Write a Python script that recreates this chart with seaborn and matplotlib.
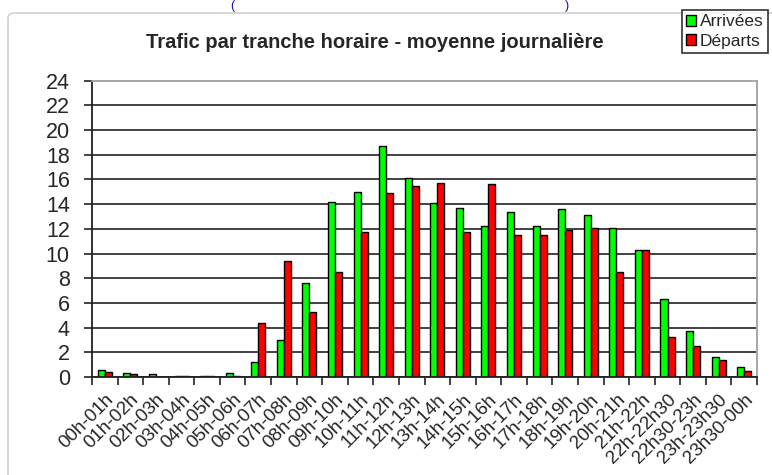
import numpy as np
import pandas as pd
import seaborn as sns
import matplotlib.pyplot as plt
from matplotlib.patches import Patch, FancyBboxPatch

tranches = ['00h-01h', '01h-02h', '02h-03h', '03h-04h', '04h-05h', '05h-06h',
            '06h-07h', '07h-08h', '08h-09h', '09h-10h', '10h-11h', '11h-12h',
            '12h-13h', '13h-14h', '14h-15h', '15h-16h', '16h-17h', '17h-18h',
            '18h-19h', '19h-20h', '20h-21h', '21h-22h', '22h-22h30',
            '22h30-23h', '23h-23h30', '23h30-00h']
arrivees = [0.6, 0.35, 0.25, 0.1, 0.1, 0.35, 1.2, 3.0, 7.6, 14.2, 15.0, 18.7,
            16.1, 14.1, 13.7, 12.25, 13.4, 12.25, 13.6, 13.1, 12.1, 10.25,
            6.35, 3.75, 1.6, 0.8]
departs = [0.4, 0.25, 0.0, 0.1, 0.1, 0.1, 4.4, 9.4, 5.3, 8.5, 11.75, 14.9,
           15.5, 15.75, 11.75, 15.65, 11.5, 11.5, 11.9, 12.1, 8.5, 10.25,
           3.25, 2.5, 1.4, 0.5]
series = ['Arrivées', 'Départs']
couleurs = ['#00ff00', '#ff0000']

df = pd.DataFrame({
    'tranche': tranches * 2,
    'valeur': arrivees + departs,
    'sens': [series[0]] * len(tranches) + [series[1]] * len(tranches),
})

sns.set_style('white')
plt.rcParams['font.family'] = ['Liberation Sans', 'DejaVu Sans']

fig = plt.figure(figsize=(7.72, 4.75), dpi=100)
ax = fig.add_axes([0.1192, 0.2063, 0.8614, 0.6238])

# cadre du graphique
fig.patches.append(FancyBboxPatch((8 / 772, -0.05), 1.0, 1.0 - 13 / 475 + 0.05,
                                  boxstyle='round,pad=0,rounding_size=0.01',
                                  transform=fig.transFigure, fill=False,
                                  edgecolor='#d0d0d0', linewidth=1.2))
fig.text(232 / 772, 1.0, '(', color='#1010c0', fontsize=9, ha='center', va='top')
fig.text(567 / 772, 1.0, ')', color='#1010c0', fontsize=9, ha='center', va='top')

sns.barplot(data=df, x='tranche', y='valeur', hue='sens', palette=couleurs,
            saturation=1, width=0.55, edgecolor='black', linewidth=1, ax=ax,
            legend=False)

ax.set_xlim(-0.5, len(tranches) - 0.5)
ax.set_ylim(0, 24)
ax.set_yticks(range(0, 25, 2))
ax.yaxis.grid(True, color='#333333', linewidth=1.3)
ax.get_ygridlines()[-1].set_visible(False)
ax.set_axisbelow(True)

ax.set_xticks(range(len(tranches)))
ax.set_xticklabels(tranches, rotation=45, ha='right', rotation_mode='anchor',
                   fontsize=13.5)
ax.set_xticks(np.arange(-0.5, len(tranches), 1), minor=True)
ax.tick_params(axis='x', which='major', length=0, pad=10)
ax.tick_params(axis='x', which='minor', length=6, width=1.2, color='#222222',
               direction='out', bottom=True)
ax.tick_params(axis='y', length=6, width=1.2, color='#222222', direction='out',
               left=True, labelsize=15.5, pad=10)
ax.set_xlabel('')
ax.set_ylabel('')

for s in ['left', 'bottom']:
    ax.spines[s].set_color('#222222')
    ax.spines[s].set_linewidth(1.3)
for s in ['top', 'right']:
    ax.spines[s].set_color('#a0a0a0')
    ax.spines[s].set_linewidth(1.3)

fig.text(375 / 772, 1 - 42 / 475, 'Trafic par tranche horaire - moyenne journalière',
         fontsize=14.5, fontweight='bold', ha='center', va='center')

handles = [Patch(facecolor=c, edgecolor='black', linewidth=1) for c in couleurs]
leg = fig.legend(handles, series, loc='upper right',
                 bbox_to_anchor=(768 / 772, 1 - 10 / 475), fontsize=12.5,
                 frameon=True, fancybox=False, edgecolor='black',
                 handlelength=0.6, handleheight=0.6, handletextpad=0.2,
                 borderpad=0.25, labelspacing=0.25, borderaxespad=0)
leg.get_frame().set_linewidth(1.2)

fig.savefig('out.png', dpi=100)
